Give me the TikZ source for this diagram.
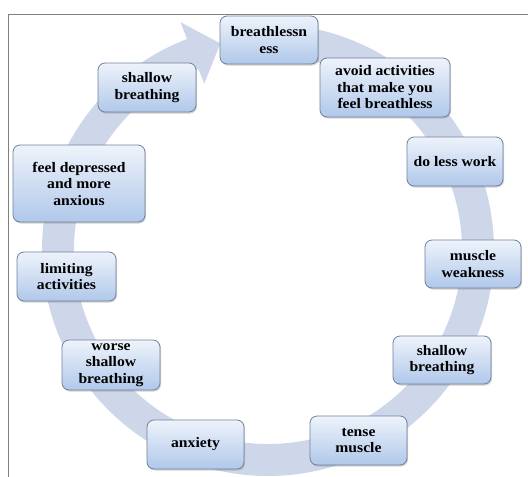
\documentclass[tikz,border=0pt]{standalone}
\usepackage{fontspec}
\newfontfamily\boxfont{Liberation Serif}[FakeStretch=1.08]
\usetikzlibrary{shadows,calc}
\definecolor{ringcol}{RGB}{205,215,233}
\definecolor{boxedge}{RGB}{112,128,155}
\definecolor{boxtop}{RGB}{238,243,251}
\definecolor{boxbot}{RGB}{176,200,234}
\definecolor{framecol}{RGB}{128,128,128}
\tikzset{
  cyclebox/.style={draw=boxedge, line width=0.8pt, rounded corners=7pt,
    top color=boxtop, bottom color=boxbot, inner sep=0pt,
    align=center, font=\boxfont\bfseries\fontsize{14.5}{16.5}\selectfont,
    drop shadow={opacity=0.35, shadow xshift=1pt, shadow yshift=-1.5pt}},
  ring/.style={fill=ringcol, draw=none}
}
\begin{document}
\begin{tikzpicture}[x=1pt,y=-1pt]
\useasboundingbox (0,0) rectangle (528,477);
% frame
\coordinate (fbl) at (8,477);
\coordinate (ftl) at (8,14.5);
\coordinate (ftr) at (528,14.5);
\draw[framecol, line width=0.9pt] (fbl) -- (ftl) -- (ftr);
% ring arrow
\coordinate (c) at (268,250);
\fill[ring] ($(c)+(-92:226)$) arc[start angle=-92, end angle=249, radius=226]
  -- ($(c)+(249:244)$) -- ($(c)+(257:212)$) -- ($(c)+(249:178)$)
  -- ($(c)+(249:194)$) arc[start angle=249, end angle=-92, radius=194] -- cycle;
% boxes
\node[cyclebox, minimum width=98pt, minimum height=48pt] (b1) at (269,40) {breathlessn\\ess};
\node[cyclebox, minimum width=130pt, minimum height=59pt] (b2) at (385,87.5) {avoid activities\\that make you\\feel breathless};
\node[cyclebox, minimum width=96pt, minimum height=49pt] (b3) at (455,161.5) {do less work};
\node[cyclebox, minimum width=96pt, minimum height=48pt] (b4) at (473,264) {muscle\\weakness};
\node[cyclebox, minimum width=98pt, minimum height=48pt] (b5) at (442,360) {shallow\\breathing};
\node[cyclebox, minimum width=97pt, minimum height=49pt] (b6) at (358.5,440.5) {tense\\muscle};
\node[cyclebox, minimum width=97pt, minimum height=49pt] (b7) at (195.5,444.5) {anxiety};
\node[cyclebox, minimum width=98pt, minimum height=50pt] (b8) at (111,365) {worse\\shallow\\breathing};
\node[cyclebox, minimum width=99pt, minimum height=49pt] (b9) at (66.5,276.5) {limiting\\activities};
\node[cyclebox, minimum width=132pt, minimum height=77pt] (b10) at (79,183.5) {feel depressed\\and more\\anxious};
\node[cyclebox, minimum width=98pt, minimum height=49pt] (b11) at (147,87.5) {shallow\\breathing};
\end{tikzpicture}
\end{document}
